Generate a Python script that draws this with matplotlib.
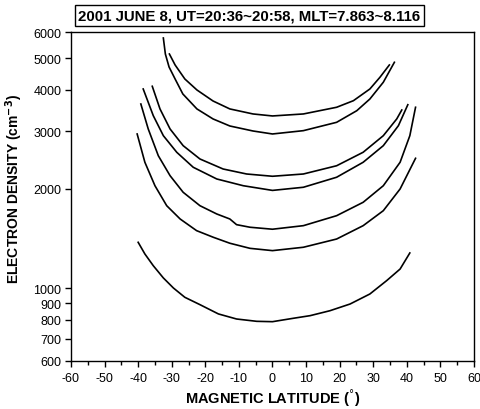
import numpy as np
import matplotlib
matplotlib.use('Agg')
from matplotlib import pyplot as plt
from matplotlib.ticker import FixedLocator, MultipleLocator, NullLocator

plt.rcParams['font.family'] = ['Liberation Sans', 'DejaVu Sans']
plt.rcParams['axes.unicode_minus'] = False

# magnetic latitude (deg) / electron density (cm^-3) for each pass
lat_a = [-30.7, -29.0, -26.1, -22.5, -17.7, -12.7, -5.8, 0.0, 9.2, 19.1, 24.1, 29.0, 32.0, 34.8]
ne_a = [5144, 4764, 4319, 3999, 3702, 3502, 3381, 3334, 3381, 3543, 3710, 4027, 4371, 4764]

lat_b = [-32.5, -31.9, -30.8, -29.0, -26.7, -22.5, -17.7, -12.7, -5.8, 0.0,
         9.2, 19.1, 25.1, 29.0, 33.0, 36.3]
ne_b = [5754, 5144, 4697, 4319, 3889, 3502, 3265, 3108, 3001, 2939,
        3008, 3189, 3459, 3754, 4221, 4854]

lat_c = [-35.8, -33.5, -30.5, -26.6, -21.6, -14.7, -7.7, 0.0, 9.2, 19.1, 27.0, 33.0, 37.0, 38.5]
ne_c = [4104, 3502, 3044, 2708, 2467, 2300, 2221, 2186, 2221, 2353, 2586, 2904, 3265, 3476]

lat_d = [-38.5, -35.5, -32.5, -28.5, -23.6, -16.6, -8.7, 0.0, 9.2, 19.1, 27.0, 33.0, 37.5, 40.3]
ne_d = [4027, 3341, 2904, 2585, 2328, 2145, 2046, 1980, 2024, 2171, 2411, 2708, 3115, 3607]

lat_e = [-39.2, -37.0, -34.0, -30.5, -26.6, -21.6, -16.6, -12.7, -10.7, -6.7, 0.0,
         9.2, 19.1, 27.0, 33.0, 38.0, 40.9, 42.6]
ne_e = [3625, 3044, 2524, 2195, 1954, 1779, 1679, 1621, 1558, 1530, 1509,
        1547, 1659, 1822, 2046, 2411, 2904, 3543]

lat_f = [-40.3, -38.0, -35.0, -31.5, -27.5, -22.6, -17.6, -12.7, -6.7, 0.0,
         9.2, 19.1, 27.0, 33.0, 38.0, 42.6]
ne_f = [2939, 2411, 2046, 1779, 1621, 1494, 1426, 1368, 1320, 1299,
        1330, 1409, 1547, 1718, 2000, 2479]

lat_g = [-40.0, -38.0, -35.5, -32.5, -29.5, -26.1, -21.6, -16.1, -10.7, -4.7, 0.0,
         6.2, 11.2, 17.1, 23.1, 29.0, 34.0, 38.0, 40.9]
ne_g = [1377, 1269, 1169, 1073, 1000, 937, 890, 834, 805, 792, 790,
        809, 824, 853, 894, 959, 1053, 1142, 1278]

y_ticks = [600, 700, 800, 900, 1000, 2000, 3000, 4000, 5000, 6000]

fig = plt.figure(figsize=(4.81, 4.10), dpi=100)
ax = fig.add_axes([0.1476, 0.1171, 0.8378, 0.8024])

for lat, ne in [(lat_a, ne_a), (lat_b, ne_b), (lat_c, ne_c), (lat_d, ne_d),
                (lat_e, ne_e), (lat_f, ne_f), (lat_g, ne_g)]:
    ax.plot(lat, ne, color='black', linewidth=1.2, solid_joinstyle='round')

ax.set_yscale('log')
ax.set_ylim(600, 6000)
ax.set_xlim(-60, 60)
ax.yaxis.set_major_locator(FixedLocator(y_ticks))
ax.yaxis.set_minor_locator(NullLocator())
ax.set_yticklabels([str(t) for t in y_ticks])
ax.xaxis.set_major_locator(MultipleLocator(10))
ax.xaxis.set_minor_locator(MultipleLocator(5))

ax.tick_params(which='major', direction='out', length=4, width=1, labelsize=9, pad=3)
ax.tick_params(axis='x', which='major', pad=4)
ax.tick_params(which='minor', direction='out', length=3, width=1)
for s in ax.spines.values():
    s.set_linewidth(1)

ax.set_xlabel('MAGNETIC LATITUDE ($^{\\degree}$)', fontsize=10.5, fontweight='bold', labelpad=1)
ax.set_ylabel('ELECTRON DENSITY (cm$^{\\mathbf{-3}}$)', fontsize=10, fontweight='bold')
ax.yaxis.set_label_coords(-0.114, 0.525)

fig.text(0.5187, 0.9598, '2001 JUNE 8, UT=20:36~20:58, MLT=7.863~8.116',
         ha='center', va='center', fontsize=10.8, fontweight='bold',
         bbox=dict(boxstyle='square,pad=0.25', facecolor='white', edgecolor='black', linewidth=1))

plt.savefig('out.png', dpi=100)
plt.close()
